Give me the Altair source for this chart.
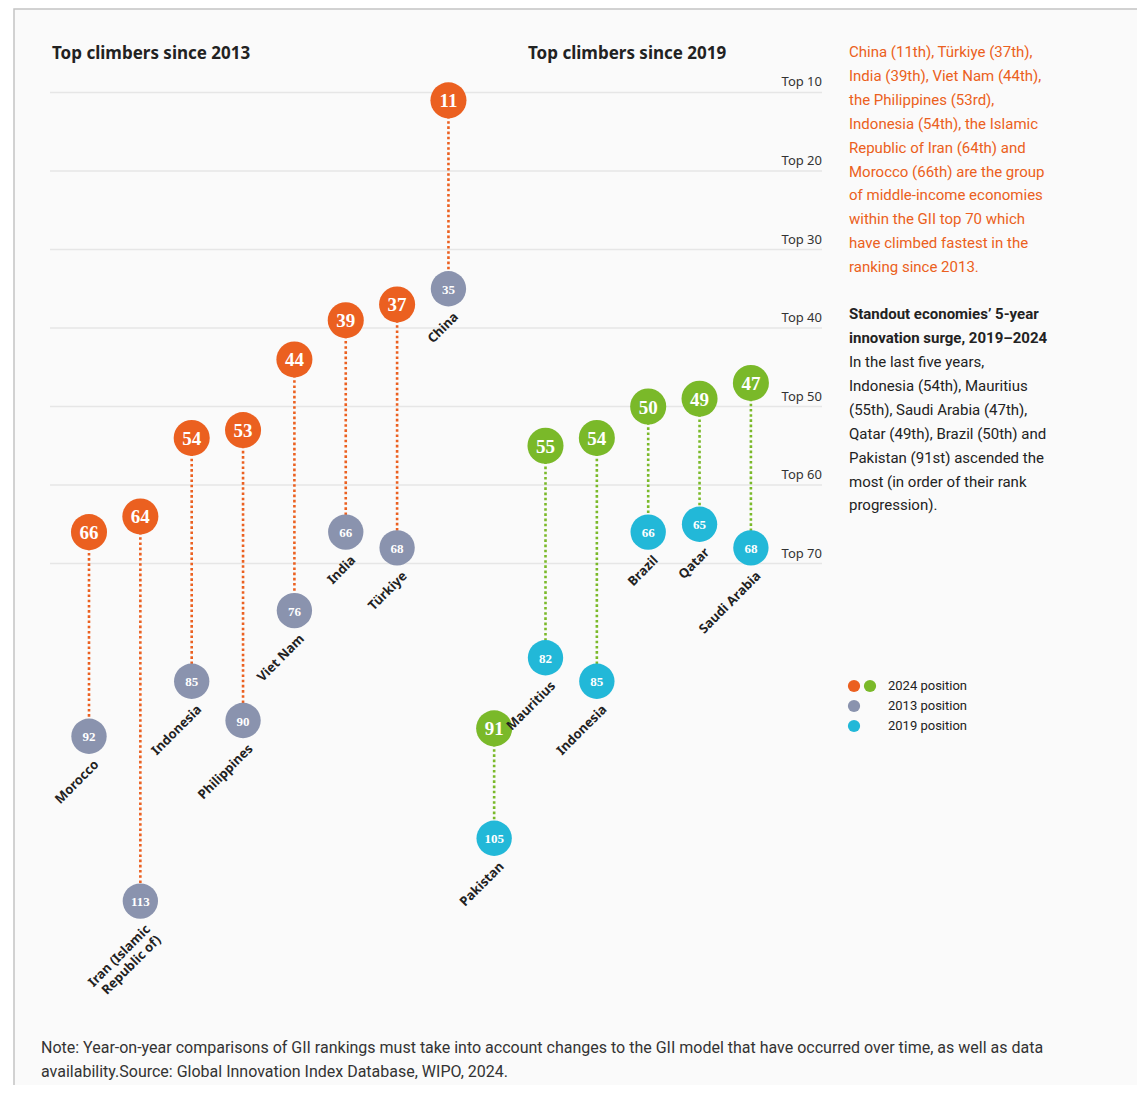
import altair as alt
import pandas as pd

# ---------------- data ----------------
countries_2013 = ["Morocco", "Iran (Islamic\nRepublic of)", "Indonesia", "Philippines",
                  "Viet Nam", "India", "Türkiye", "China"]
rank_2024_a = [66, 64, 54, 53, 44, 39, 37, 11]
rank_2013 = [92, 113, 85, 90, 76, 66, 68, 35]

countries_2019 = ["Pakistan", "Mauritius", "Indonesia", "Brazil", "Qatar", "Saudi Arabia"]
rank_2024_b = [91, 55, 54, 50, 49, 47]
rank_2019 = [105, 82, 85, 66, 65, 68]

top_levels = [10, 20, 30, 40, 50, 60, 70]
top_labels = ["Top 10", "Top 20", "Top 30", "Top 40", "Top 50", "Top 60", "Top 70"]

ORANGE = "#EB6020"
GREEN = "#7AB929"
GRAY = "#8A93AE"
CYAN = "#22B8D8"

GAP = 0.89  # extra spacing between the two groups (in slot units)

rows = []
for i, (c, n, o) in enumerate(zip(countries_2013, rank_2024_a, rank_2013)):
    rows.append(dict(idx=i, country=c, new=n, old=o, group="a",
                     new_lbl=str(n), old_lbl=str(o)))
for j, (c, n, o) in enumerate(zip(countries_2019, rank_2024_b, rank_2019)):
    rows.append(dict(idx=7 + GAP + j, country=c, new=n, old=o, group="b",
                     new_lbl=str(n), old_lbl=str(o)))
df = pd.DataFrame(rows)
grid = pd.DataFrame({"rank": top_levels, "label": top_labels})

W, H = 1129, 1077
xs = alt.Scale(domain=[-1.5774, 20.409], nice=False, zero=False)
ys = alt.Scale(domain=[-0.764, 136.43], nice=False, zero=False, reverse=True)
X = alt.X("idx:Q", scale=xs, axis=None)
base = alt.Chart(df)

new_color = alt.Color("group:N", scale=alt.Scale(domain=["a", "b"], range=[ORANGE, GREEN]), legend=None)
old_color = alt.Color("group:N", scale=alt.Scale(domain=["a", "b"], range=[GRAY, CYAN]), legend=None)

dummy = alt.Chart(pd.DataFrame({"d": [0]}))

frame = dummy.mark_rect(fill="#fafafa", stroke="#c4c4c4", strokeWidth=1.5).encode(
    x=alt.value(6), x2=alt.value(1160), y=alt.value(1), y2=alt.value(1120))

gridlines = alt.Chart(grid).mark_rule(color="#e6e6e6", strokeWidth=1.5).encode(
    y=alt.Y("rank:Q", scale=ys, axis=None), x=alt.value(42), x2=alt.value(814))
gridtext = alt.Chart(grid).mark_text(align="right", baseline="middle", dy=-10,
                                     fontSize=13, font="Noto Sans", color="#333").encode(
    y=alt.Y("rank:Q", scale=ys, axis=None), x=alt.value(814), text="label:N")

links = base.mark_rule(strokeWidth=2.6, strokeDash=[2.6, 2.6]).encode(
    x=X, y=alt.Y("new:Q", scale=ys, axis=None), y2="old:Q", color=new_color)

old_dots = base.mark_circle(size=1250, opacity=1).encode(
    x=X, y=alt.Y("old:Q", scale=ys, axis=None), color=old_color)
new_dots = base.mark_circle(size=1300, opacity=1).encode(
    x=X, y=alt.Y("new:Q", scale=ys, axis=None), color=new_color)

new_txt = base.mark_text(font="Liberation Serif", fontWeight="bold", fontSize=19,
                         color="white", baseline="middle", dy=1).encode(
    x=X, y=alt.Y("new:Q", scale=ys, axis=None), text="new_lbl:N")
old_txt = base.mark_text(font="Liberation Serif", fontWeight="bold", fontSize=13,
                         color="white", baseline="middle", dy=1).encode(
    x=X, y=alt.Y("old:Q", scale=ys, axis=None), text="old_lbl:N")

names = base.mark_text(angle=315, align="right", baseline="middle", dx=-13, dy=24,
                       fontSize=13, fontWeight="bold", font="Noto Sans", color="#222",
                       lineBreak="\n", lineHeight=15).encode(
    x=X, y=alt.Y("old:Q", scale=ys, axis=None), text="country:N")

def label(text, x, y, size=15, weight="normal", color="#222", lh=23.9, font="Noto Sans",
          baseline="alphabetic"):
    return dummy.mark_text(text=text, align="left", baseline=baseline, fontSize=size,
                           fontWeight=weight, color=color, font=font, lineBreak="\n",
                           lineHeight=lh).encode(x=alt.value(x), y=alt.value(y))

title1 = label("Top climbers since 2013", 44, 46, size=17, weight="bold", baseline="middle")
title2 = label("Top climbers since 2019", 520, 46, size=17, weight="bold", baseline="middle")

orange_par = label(
    "China (11th), Türkiye (37th),\nIndia (39th), Viet Nam (44th),\nthe Philippines (53rd),\n"
    "Indonesia (54th), the Islamic\nRepublic of Iran (64th) and\nMorocco (66th) are the group\n"
    "of middle-income economies\nwithin the GII top 70 which\nhave climbed fastest in the\n"
    "ranking since 2013.",
    841, 49, size=15, color=ORANGE, font="Roboto")
bold_par = label("Standout economies’ 5-year\ninnovation surge, 2019–2024", 841, 311, size=15,
                 weight="bold", font="Roboto")
body_par = label(
    "In the last five years,\nIndonesia (54th), Mauritius\n(55th), Saudi Arabia (47th),\n"
    "Qatar (49th), Brazil (50th) and\nPakistan (91st) ascended the\nmost (in order of their rank\n"
    "progression).",
    841, 359, size=15, font="Roboto")

leg_dots = [
    dummy.mark_circle(size=150, opacity=1, color=ORANGE).encode(x=alt.value(846), y=alt.value(678)),
    dummy.mark_circle(size=150, opacity=1, color=GREEN).encode(x=alt.value(862), y=alt.value(678)),
    dummy.mark_circle(size=150, opacity=1, color=GRAY).encode(x=alt.value(846), y=alt.value(698)),
    dummy.mark_circle(size=150, opacity=1, color=CYAN).encode(x=alt.value(846), y=alt.value(718)),
]
leg_txt = [
    label("2024 position", 880, 678, size=13, baseline="middle", font="Roboto"),
    label("2013 position", 880, 698, size=13, baseline="middle", font="Roboto"),
    label("2019 position", 880, 718, size=13, baseline="middle", font="Roboto"),
]

note = label(
    "Note: Year-on-year comparisons of GII rankings must take into account changes to the GII model "
    "that have occurred over time, as well as data\navailability.Source: Global Innovation Index "
    "Database, WIPO, 2024.",
    33, 1045, size=16, color="#333", lh=24, font="Roboto")

chart = alt.layer(
    frame, gridlines, gridtext, links, old_dots, new_dots, new_txt, old_txt, names,
    title1, title2, orange_par, bold_par, body_par, *leg_dots, *leg_txt, note
).resolve_scale(color="independent").properties(
    width=W, height=H, padding=0, autosize="none", background="white"
).configure_view(stroke=None)

chart.save("out.html", embed_options={"renderer": "svg", "actions": False})
